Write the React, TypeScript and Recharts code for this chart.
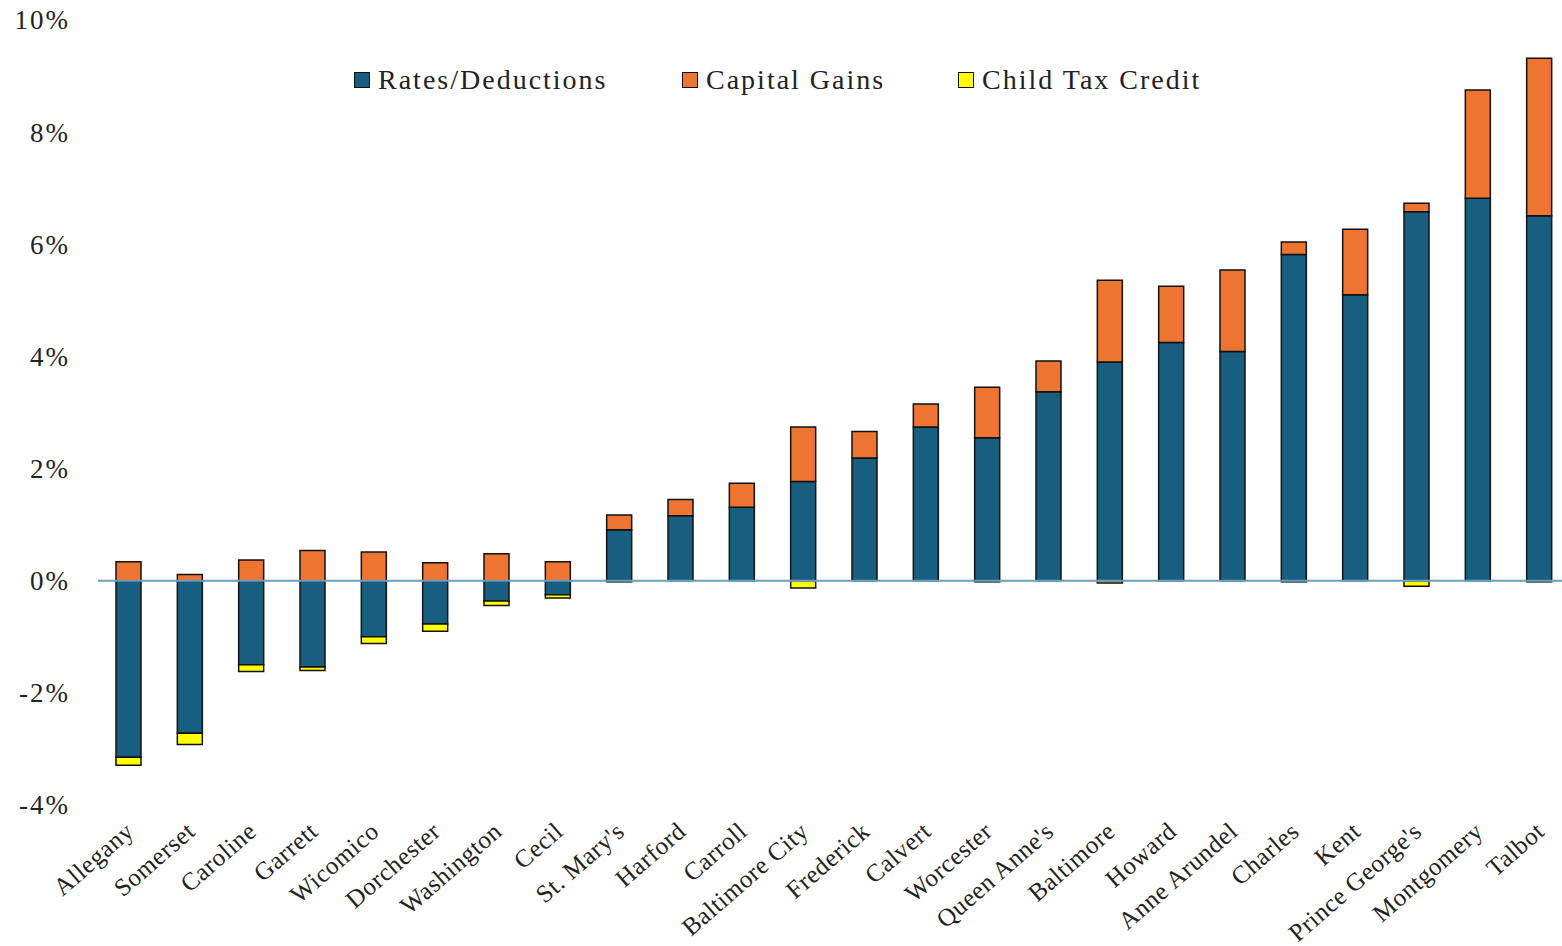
import React from "react";
import { BarChart, Bar, XAxis, YAxis, ReferenceLine } from "recharts";

const counties = [
  "Allegany", "Somerset", "Caroline", "Garrett", "Wicomico", "Dorchester",
  "Washington", "Cecil", "St. Mary's", "Harford", "Carroll", "Baltimore City",
  "Frederick", "Calvert", "Worcester", "Queen Anne's", "Baltimore", "Howard",
  "Anne Arundel", "Charles", "Kent", "Prince George's", "Montgomery", "Talbot",
];

const ratesDeductions = [
  -3.15, -2.72, -1.5, -1.54, -1.0, -0.77, -0.36, -0.25, 0.91, 1.16, 1.31, 1.77,
  2.19, 2.74, 2.55, 3.37, 3.9, 4.25, 4.09, 5.82, 5.1, 6.58, 6.82, 6.51,
];

const capitalGains = [
  0.34, 0.11, 0.37, 0.54, 0.51, 0.32, 0.48, 0.34, 0.26, 0.29, 0.43, 0.97,
  0.47, 0.41, 0.9, 0.55, 1.46, 1.0, 1.45, 0.22, 1.17, 0.15, 1.93, 2.81,
];

const childTaxCredit = [
  -0.14, -0.2, -0.12, -0.06, -0.12, -0.13, -0.08, -0.06, -0.02, 0, 0, -0.13,
  0, 0, -0.02, 0, -0.04, 0, 0, -0.02, 0, -0.1, 0, -0.02,
];

const yTicks = [-4, -2, 0, 2, 4, 6, 8, 10];

const seriesNames = ["Rates/Deductions", "Capital Gains", "Child Tax Credit"];
const seriesColors = ["#185e80", "#ed7431", "#ffff00"];

const data = counties.map((name, i) => ({
  name,
  rates: ratesDeductions[i],
  gains: capitalGains[i],
  ctc: childTaxCredit[i],
}));

const FONT = "'Liberation Serif', 'Times New Roman', serif";

const YTick = (props: any) => {
  const { x, y, payload } = props;
  return (
    <text
      x={x - 20}
      y={y}
      dy="0.35em"
      textAnchor="end"
      fontFamily={FONT}
      fontSize={27}
      letterSpacing={2}
      fill="#222"
    >
      {`${payload.value}%`}
    </text>
  );
};

const XTick = (props: any) => {
  const { x, y, payload } = props;
  return (
    <g transform={`translate(${x + 1},${y + 14}) rotate(-41)`}>
      <text
        x={0}
        y={0}
        dy="0.35em"
        textAnchor="end"
        fontFamily={FONT}
        fontSize={25}
        letterSpacing={0.6}
        fill="#222"
      >
        {payload.value}
      </text>
    </g>
  );
};

const legendLeft = [354, 682, 958];

export default function App() {
  return (
    <div
      style={{
        position: "fixed",
        left: 0,
        top: 0,
        width: 1562,
        height: 946,
        overflow: "hidden",
        background: "#fff",
      }}
    >
      <BarChart
        width={1580}
        height={946}
        data={data}
        stackOffset="sign"
        margin={{ top: 20, right: 10, left: 0, bottom: 0 }}
      >
        <YAxis
          width={98}
          domain={[-4, 10]}
          ticks={yTicks}
          axisLine={false}
          tickLine={false}
          tick={<YTick />}
          interval={0}
        />
        <XAxis
          dataKey="name"
          height={141}
          axisLine={false}
          tickLine={false}
          interval={0}
          tick={<XTick />}
        />
        <ReferenceLine y={0} stroke="#6d9fbf" strokeWidth={2} />
        <Bar dataKey="rates" stackId="a" fill={seriesColors[0]} stroke="#111" strokeWidth={1.5} barSize={25} isAnimationActive={false} />
        <Bar dataKey="gains" stackId="a" fill={seriesColors[1]} stroke="#111" strokeWidth={1.5} barSize={25} isAnimationActive={false} />
        <Bar dataKey="ctc" stackId="a" fill={seriesColors[2]} stroke="#111" strokeWidth={1.5} barSize={25} isAnimationActive={false} />
      </BarChart>
      {seriesNames.map((n, i) => (
        <div
          key={n}
          style={{
            position: "absolute",
            left: legendLeft[i],
            top: 62,
            height: 36,
            display: "flex",
            alignItems: "center",
            fontFamily: FONT,
            fontSize: 28,
            letterSpacing: 2,
            color: "#222",
            whiteSpace: "nowrap",
          }}
        >
          <span
            style={{
              display: "inline-block",
              width: 14,
              height: 14,
              background: seriesColors[i],
              border: "1.5px solid #111",
              marginRight: 8,
            }}
          />
          {n}
        </div>
      ))}
    </div>
  );
}
